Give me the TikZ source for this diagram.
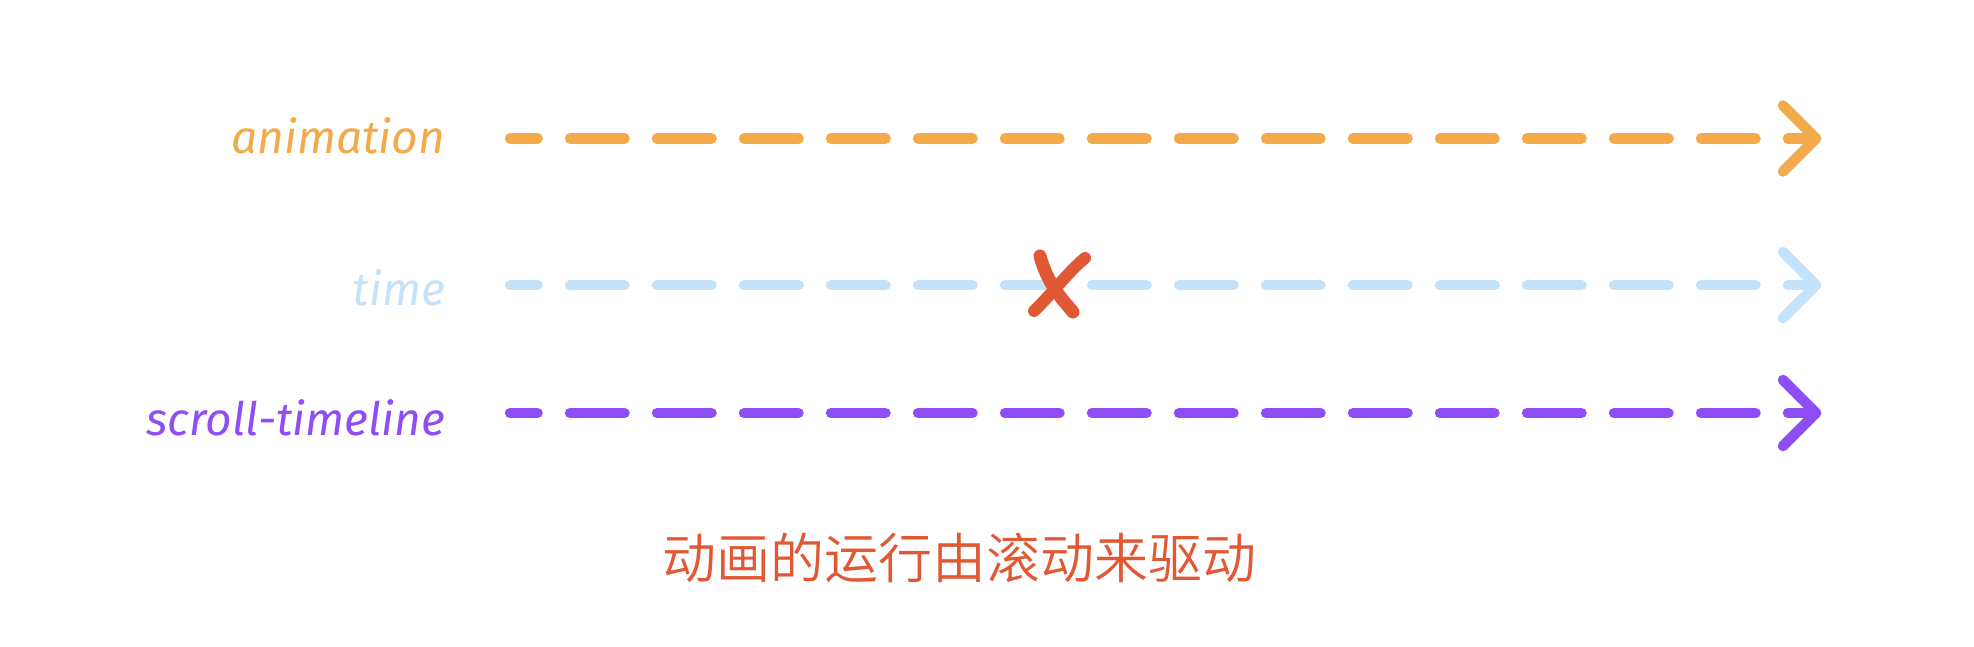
\documentclass[tikz,border=0pt]{standalone}
\usepackage{fontspec}
\setmainfont{Fira Sans}
\newfontfamily\cjk{Noto Sans CJK SC}[UprightFont={* DemiLight}]
\usetikzlibrary{calc}

\definecolor{animorange}{RGB}{242,170,74}
\definecolor{timeblue}{RGB}{197,226,251}
\definecolor{scrollpurple}{RGB}{142,77,245}
\definecolor{crossred}{RGB}{224,88,52}

\begin{document}
\begin{tikzpicture}[x=1pt, y=-1pt,
	label/.style={anchor=base east, inner sep=0pt, font=\fontsize{46}{50}\selectfont\itshape},
	track/.style={line width=10.5pt, line cap=round, dash pattern=on 54.5pt off 32.5pt, dash phase=27pt},
	chevron/.style={line width=10.5pt, line cap=round, line join=round},
	]

\useasboundingbox (0,0) rectangle (1974,646);

% labels
\node[label, text=animorange] (anim) at (445,153) {animation};
\node[label, text=timeblue] (time) at (445,305) {time};
\node[label, text=scrollpurple] (scroll) at (445,435) {scroll-timeline};

% tracks
\coordinate (anim0) at (510,138.5);
\coordinate (anim1) at (1816,138.5);
\coordinate (time0) at (510,285);
\coordinate (time1) at (1816,285);
\coordinate (scroll0) at (510,413);
\coordinate (scroll1) at (1816,413);

\draw[track, animorange] (anim0) -- (anim1);
\draw[chevron, animorange] ($(anim1)+(-33,-33)$) -- (anim1) -- ($(anim1)+(-33,33)$);

\draw[track, timeblue] (time0) -- (time1);
\draw[chevron, timeblue] ($(time1)+(-33,-33)$) -- (time1) -- ($(time1)+(-33,33)$);

\draw[track, scrollpurple] (scroll0) -- (scroll1);
\draw[chevron, scrollpurple] ($(scroll1)+(-33,-33)$) -- (scroll1) -- ($(scroll1)+(-33,33)$);

% cross on time
\draw[crossred, line width=13pt, line cap=round] (1040,256) .. controls (1047,282) and (1060,297) .. (1073,312);
\draw[crossred, line width=12pt, line cap=round] (1085,258) .. controls (1068,272) and (1050,296) .. (1034,311);

% caption
\node[text=crossred, font=\cjk\fontsize{54}{60}\selectfont] (caption) at (959,558) {动画的运行由滚动来驱动};

\end{tikzpicture}
\end{document}
